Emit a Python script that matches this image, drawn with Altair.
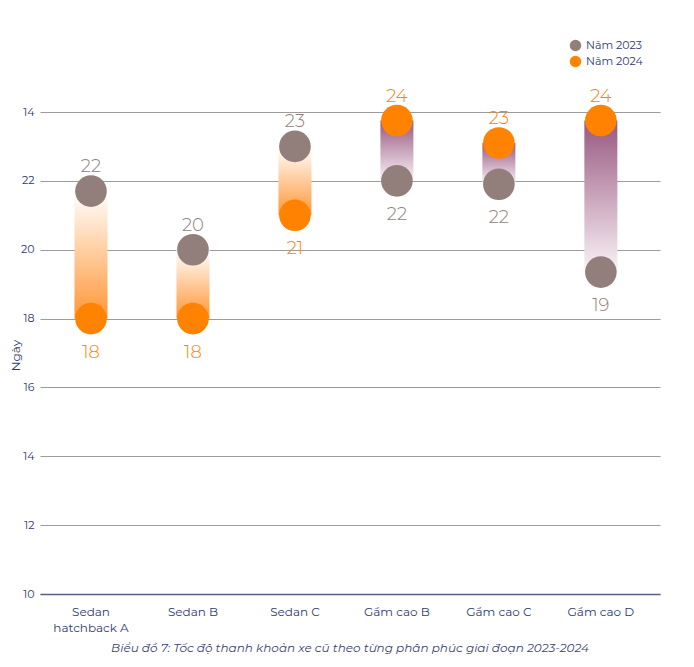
import altair as alt
import pandas as pd

categories = ["Sedan|hatchback A", "Sedan B", "Sedan C", "Gầm cao B", "Gầm cao C", "Gầm cao D"]
v2023 = [21.7, 20.0, 23.0, 22.0, 21.9, 19.35]
v2024 = [18.0, 18.0, 21.0, 23.75, 23.1, 23.75]
years = ["Năm 2023", "Năm 2024"]
y_ticks = [10, 12, 14, 16, 18, 20, 22, 24]

NAVY = "#2f3a6a"
GRAY = "#927f7c"
ORANGE = "#ff8300"
FONT = "Montserrat, DejaVu Sans"

wide = pd.DataFrame({"cat": categories, "v2023": v2023, "v2024": v2024})

rows = []
for c, a, b in zip(categories, v2023, v2024):
    rows.append({"cat": c, "year": years[0], "value": a, "top": a >= b})
    rows.append({"cat": c, "year": years[1], "value": b, "top": b > a})
long = pd.DataFrame(rows)

xenc = alt.X("cat:N", sort=categories,
             scale=alt.Scale(paddingInner=0, paddingOuter=0.04, align=0),
             axis=alt.Axis(title=None, labelAngle=0, labelExpr="split(datum.label, '|')",
                           labelFontSize=12, labelColor=NAVY, labelFont=FONT, ticks=False,
                           domain=True, domainColor="#5a5e84", domainWidth=1.6,
                           labelPadding=12, labelLineHeight=16, grid=False))
yscale = alt.Scale(domain=[10, 24], nice=False, zero=False)
yaxis = alt.Axis(values=y_ticks, labelExpr="datum.value == 24 ? '14' : datum.label",
                 domain=False, ticks=False, grid=True, gridColor="#9c9c9c", gridWidth=1.2,
                 labelColor=NAVY, labelFontSize=11, labelFont=FONT, labelPadding=6,
                 title="Ngày", titleFontSize=12, titleFontWeight="normal", titleColor=NAVY,
                 titleFont=FONT, titleX=-25, titleY=243, titleBaseline="middle",
                 titleAlign="center", titleAngle=270)

base_w = alt.Chart(wide)

orange_grad = alt.Gradient(gradient="linear",
                           stops=[alt.GradientStop(offset=0, color="#ff9636"),
                                  alt.GradientStop(offset=1, color="#ffffff")],
                           x1=0, x2=0, y1=1, y2=0)
purple_grad = alt.Gradient(gradient="linear",
                           stops=[alt.GradientStop(offset=0, color="#985780"),
                                  alt.GradientStop(offset=1, color="#faf3f7")],
                           x1=0, x2=0, y1=0, y2=1)

bars_down = base_w.transform_filter("datum.v2024 < datum.v2023").mark_bar(
    size=33, color=orange_grad).encode(
    x=xenc, y=alt.Y("v2023:Q", scale=yscale, axis=yaxis), y2="v2024:Q")
bars_up = base_w.transform_filter("datum.v2024 >= datum.v2023").mark_bar(
    size=33, color=purple_grad).encode(
    x=xenc, y=alt.Y("v2023:Q", scale=yscale, axis=yaxis), y2="v2024:Q")

color_scale = alt.Scale(domain=years, range=[GRAY, ORANGE])
base_l = alt.Chart(long)

points = base_l.mark_circle(size=1000, opacity=1).encode(
    x=xenc,
    y=alt.Y("value:Q", scale=yscale, axis=yaxis),
    color=alt.Color("year:N", scale=color_scale,
                    legend=alt.Legend(title=None, orient="none", legendX=529, legendY=-73,
                                      symbolType="circle", symbolSize=130,
                                      labelFontSize=11, labelColor=NAVY, labelFont=FONT,
                                      rowPadding=3, symbolOpacity=1)),
)

labels_top = base_l.transform_filter("datum.top").mark_text(
    dy=-24, fontSize=18, fontWeight=300, font=FONT).encode(
    x=xenc, y=alt.Y("value:Q", scale=yscale, axis=yaxis),
    text=alt.Text("value:Q", format=".0f"),
    color=alt.Color("year:N", scale=color_scale, legend=None))
labels_bot = base_l.transform_filter("!datum.top").mark_text(
    dy=34, fontSize=18, fontWeight=300, font=FONT).encode(
    x=xenc, y=alt.Y("value:Q", scale=yscale, axis=yaxis),
    text=alt.Text("value:Q", format=".0f"),
    color=alt.Color("year:N", scale=color_scale, legend=None))

chart = alt.layer(bars_down, bars_up, points, labels_top, labels_bot).properties(
    width=620, height=482,
    autosize=alt.AutoSizeParams(type="none"),
    padding={"left": 32, "top": 104, "right": 26, "bottom": 65},
    title=alt.TitleParams(
        "Biểu đồ 7: Tốc độ thanh khoản xe cũ theo từng phân phúc giai đoạn 2023-2024",
        orient="bottom", anchor="middle", fontStyle="italic", fontWeight="normal",
        fontSize=12, color="#3a4270", font=FONT, offset=10),
).configure_view(stroke=None)

chart.save("out.html", embed_options={"renderer": "svg", "actions": False})
